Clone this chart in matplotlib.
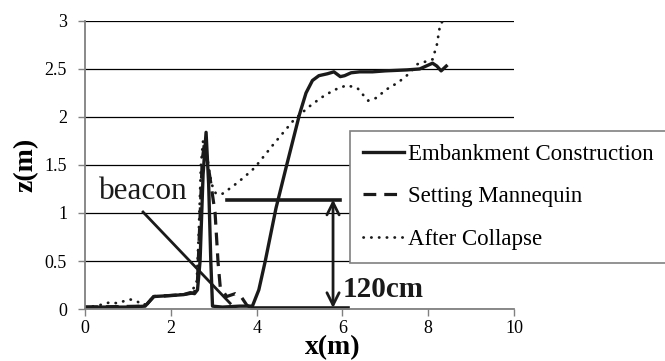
import numpy as np
import matplotlib
matplotlib.use('Agg')
from matplotlib import pyplot as plt

plt.rcParams['font.family'] = ['Liberation Serif', 'DejaVu Serif']

# Embankment Construction (solid)
x_emb = [0, 0.5, 1.0, 1.4, 1.6, 2.0, 2.3, 2.45, 2.55, 2.62, 2.68, 2.75, 2.82, 2.88, 2.93, 2.97,
         3.2, 3.6, 3.9, 4.05, 4.2, 4.45, 4.7, 5.0, 5.15, 5.3, 5.45, 5.65, 5.8, 5.95, 6.05,
         6.2, 6.4, 6.7, 7.0, 7.5, 7.8, 8.1, 8.2, 8.3, 8.42]
z_emb = [0.02, 0.02, 0.02, 0.03, 0.13, 0.14, 0.15, 0.17, 0.16, 0.2, 0.5, 1.4, 1.84, 1.3, 0.5, 0.03,
         0.02, 0.03, 0.03, 0.2, 0.5, 1.05, 1.5, 2.03, 2.25, 2.38, 2.43, 2.45, 2.47, 2.42, 2.43,
         2.46, 2.47, 2.47, 2.48, 2.49, 2.5, 2.56, 2.53, 2.48, 2.53]

# Setting Mannequin (dashed)
x_man = [0, 1.4, 1.6, 2.3, 2.55, 2.62, 2.68, 2.73, 2.78, 2.85, 2.95, 3.03, 3.1, 3.15, 3.3,
         3.5, 3.65, 3.77, 3.85]
z_man = [0.02, 0.03, 0.13, 0.15, 0.17, 0.3, 0.96, 1.55, 1.72, 1.55, 1.25, 1.0, 0.48, 0.23, 0.13,
         0.16, 0.12, 0.04, 0.02]

# After Collapse (dotted)
x_col = [0, 0.25, 0.42, 0.58, 0.75, 0.89, 1.05, 1.21, 1.35, 1.45, 1.6, 2.0, 2.4, 2.6, 2.65,
         2.7, 2.75, 2.8, 2.87, 2.95, 3.05, 3.2, 3.45, 3.7, 3.95, 4.4, 4.85, 5.2, 5.5, 5.8,
         6.1, 6.35, 6.5, 6.6, 6.8, 7.0, 7.3, 7.55, 7.75, 8.1, 8.2, 8.28, 8.35]
z_col = [0.02, 0.03, 0.05, 0.07, 0.06, 0.08, 0.1, 0.08, 0.04, 0.06, 0.13, 0.14, 0.16, 0.25, 0.8,
         1.5, 1.75, 1.7, 1.5, 1.3, 1.2, 1.2, 1.28, 1.37, 1.47, 1.72, 1.96, 2.1, 2.2, 2.28,
         2.33, 2.3, 2.22, 2.17, 2.2, 2.28, 2.36, 2.45, 2.55, 2.6, 2.75, 2.97, 3.0]

xticks = [0, 2, 4, 6, 8, 10]
yticks = [0, 0.5, 1, 1.5, 2, 2.5, 3]
ytick_labels = ['0', '0.5', '1', '1.5', '2', '2.5', '3']

# annotation: 120cm height marker and beacon pointer
top_line_x = [3.3, 5.94]
top_line_z = 1.14
base_line_x = [3.9, 6.13]
arrow_x = 5.78
beacon_line_x = [1.35, 3.38]
beacon_line_z = [1.01, 0.06]

fig = plt.figure(figsize=(6.65, 3.61), dpi=100)
ax = fig.add_axes([0.128, 0.144, 0.645, 0.798])

ax.set_xlim(0, 10)
ax.set_ylim(0, 3)
ax.set_xticks(xticks)
ax.set_yticks(yticks)
ax.set_yticklabels(ytick_labels)
ax.tick_params(labelsize=13, length=5, width=1, color='#808080', pad=8)
ax.tick_params(axis='x', pad=3)
ax.yaxis.grid(True, color='black', lw=0.9)
ax.set_axisbelow(True)
for s in ['top', 'right']:
    ax.spines[s].set_visible(False)
for s in ['left', 'bottom']:
    ax.spines[s].set_color('#808080')
    ax.spines[s].set_linewidth(1.3)

c = '#1a1a1a'
ax.plot(x_emb, z_emb, color=c, lw=2.4, label='Embankment Construction', solid_joinstyle='round')
ax.plot(x_man, z_man, color=c, lw=2.3, dashes=(4, 2.5), label='Setting Mannequin')
ax.plot(x_col, z_col, color=c, lw=2.0, linestyle=(0, (0.1, 2.7)), dash_capstyle='round',
        label='After Collapse')

# annotations
ax.plot(top_line_x, [top_line_z, top_line_z], color=c, lw=2.6)
ax.plot(base_line_x, [0.01, 0.01], color=c, lw=2.6, clip_on=False)
ax.annotate('', xy=(arrow_x, 0.01), xytext=(arrow_x, top_line_z),
            arrowprops=dict(arrowstyle='<->', lw=2, color=c, mutation_scale=22,
                            shrinkA=0, shrinkB=0))
ax.text(6.0, 0.2, '120cm', fontsize=21, fontweight='bold', color=c, va='center', ha='left')
ax.plot(beacon_line_x, beacon_line_z, color=c, lw=2)
ax.text(0.33, 1.22, 'beacon', fontsize=22.5, color=c, va='center', ha='left')

ax.set_ylabel('z(m)', fontsize=20, fontweight='bold', labelpad=4)
fig.text(0.501, 0.002, 'x(m)', fontsize=20, fontweight='bold', ha='center', va='bottom')

leg = ax.legend(loc='upper left', bbox_to_anchor=(350 / 665, 1 - 131 / 361),
                bbox_transform=fig.transFigure, fontsize=16.5, handlelength=1.8,
                handletextpad=0.2, labelspacing=0.95, borderpad=0.55, borderaxespad=0,
                fancybox=False, framealpha=1)
leg.get_frame().set_edgecolor('#808080')
leg.get_frame().set_linewidth(1.2)

plt.savefig('out.png', dpi=100)
